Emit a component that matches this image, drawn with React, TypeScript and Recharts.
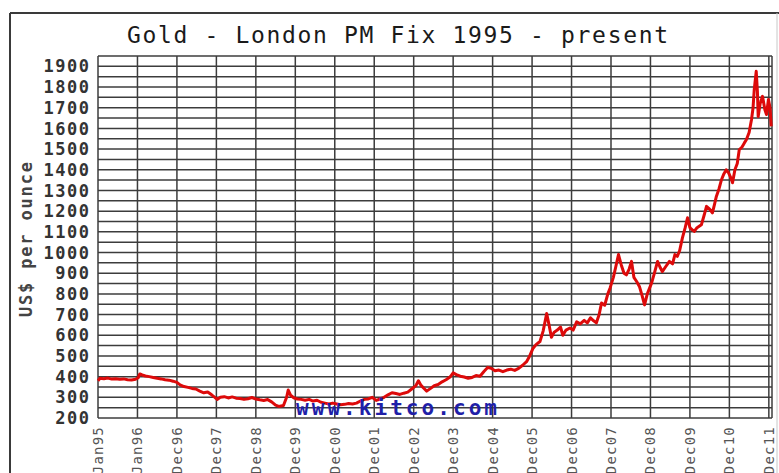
import { LineChart, Line, XAxis, YAxis, CartesianGrid } from "recharts";

const MONO = "'DejaVu Sans Mono', 'Liberation Mono', monospace";

// x positions: 0 = Jan95, 1 = Jan96, 2 = Dec96 ... 17 = Dec11
const X_LABELS = [
  "Jan95", "Jan96", "Dec96", "Dec97", "Dec98", "Dec99", "Dec00", "Dec01", "Dec02",
  "Dec03", "Dec04", "Dec05", "Dec06", "Dec07", "Dec08", "Dec09", "Dec10", "Dec11",
];
const X_END = 17.08;
const X_TICKS = [...X_LABELS.map((_, i) => i), X_END];

const Y_TICKS = [
  200, 250, 300, 350, 400, 450, 500, 550, 600, 650, 700, 750, 800, 850, 900, 950, 1000,
  1050, 1100, 1150, 1200, 1250, 1300, 1350, 1400, 1450, 1500, 1550, 1600, 1650, 1700,
  1750, 1800, 1850, 1900, 1950,
];

const T = [
  0.0, 0.05, 0.15, 0.25, 0.35, 0.45, 0.55, 0.65, 0.75, 0.85, 0.95, 1.02, 1.06, 1.12, 1.2,
  1.3, 1.4, 1.5, 1.6, 1.7, 1.8, 1.9, 2.0, 2.08, 2.18, 2.28, 2.38, 2.48, 2.58, 2.68, 2.78,
  2.88, 2.96, 3.02, 3.1, 3.2, 3.3, 3.4, 3.5, 3.6, 3.7, 3.8, 3.9, 4.0, 4.1, 4.2, 4.3, 4.4,
  4.5, 4.58, 4.7, 4.78, 4.82, 4.88, 4.96, 5.05, 5.15, 5.25, 5.35, 5.45, 5.55, 5.65, 5.75,
  5.85, 5.95, 6.05, 6.15, 6.25, 6.35, 6.45, 6.55, 6.65, 6.75, 6.85, 6.95, 7.05, 7.15, 7.25,
  7.35, 7.45, 7.55, 7.65, 7.75, 7.85, 7.95, 8.05, 8.12, 8.18, 8.25, 8.33, 8.42, 8.52, 8.62,
  8.72, 8.82, 8.92, 9.0, 9.08, 9.18, 9.28, 9.38, 9.48, 9.58, 9.68, 9.78, 9.88, 9.96, 10.06,
  10.16, 10.26, 10.36, 10.46, 10.56, 10.66, 10.76, 10.86, 10.94, 11.02, 11.1, 11.2, 11.28,
  11.37, 11.43, 11.49, 11.56, 11.64, 11.72, 11.78, 11.86, 11.96, 12.04, 12.13, 12.22,
  12.32, 12.4, 12.48, 12.56, 12.63, 12.7, 12.76, 12.84, 12.92, 12.98, 13.06, 13.12, 13.19,
  13.26, 13.33, 13.39, 13.46, 13.52, 13.58, 13.65, 13.72, 13.79, 13.85, 13.92, 14.03, 14.1,
  14.18, 14.24, 14.3, 14.38, 14.48, 14.56, 14.62, 14.68, 14.74, 14.81, 14.88, 14.94, 15.0,
  15.06, 15.11, 15.18, 15.29, 15.36, 15.42, 15.5, 15.57, 15.62, 15.67, 15.74, 15.8, 15.86,
  15.92, 15.98, 16.04, 16.08, 16.14, 16.2, 16.25, 16.32, 16.38, 16.43, 16.5, 16.56, 16.6,
  16.63, 16.68, 16.71, 16.73, 16.78, 16.84, 16.9, 16.94, 16.99, 17.03, 17.06,
];

const PRICE = [
  380, 392, 390, 393, 388, 390, 387, 389, 385, 384, 387, 395, 413, 408, 403, 400, 396,
  392, 389, 385, 383, 378, 372, 360, 352, 348, 343, 340, 330, 322, 326, 312, 300, 290,
  300, 303, 297, 302, 296, 294, 290, 293, 299, 292, 288, 285, 289, 278, 262, 256, 260,
  300, 335, 310, 298, 292, 290, 286, 290, 282, 286, 276, 272, 268, 272, 268, 264, 266,
  270, 268, 272, 282, 290, 292, 300, 285, 292, 300, 312, 322, 318, 314, 320, 325, 340,
  355, 380, 360, 345, 330, 342, 356, 362, 375, 385, 398, 418, 410, 402, 398, 392, 396,
  405, 402, 425, 445, 440, 428, 432, 424, 432, 436, 430, 440, 455, 472, 500, 535, 555,
  570, 620, 705, 650, 590, 615, 625, 640, 600, 625, 635, 625, 665, 655, 672, 660, 684,
  670, 660, 700, 756, 745, 800, 830, 880, 930, 990, 940, 900, 892, 920, 957, 880, 860,
  836, 790, 747, 800, 853, 900, 957, 930, 908, 930, 957, 945, 990, 981, 1010, 1071, 1120,
  1168, 1120, 1110, 1102, 1120, 1134, 1180, 1223, 1210, 1192, 1230, 1271, 1310, 1352,
  1380, 1400, 1385, 1360, 1337, 1400, 1430, 1497, 1510, 1530, 1545, 1580, 1642, 1700,
  1787, 1876, 1780, 1658, 1720, 1755, 1690, 1667, 1740, 1700, 1610,
];

const data = T.map((t, i) => ({ t, price: PRICE[i] }));

const XTick = ({ x, y, payload }: any) => {
  const label = X_LABELS[payload.value];
  if (!label) return <g />;
  return (
    <text
      x={x}
      y={y}
      dy="0.36em"
      transform={`rotate(-90 ${x} ${y})`}
      textAnchor="end"
      fontFamily={MONO}
      fontSize={14}
      letterSpacing={1.2}
      fill="#555"
    >
      {label}
    </text>
  );
};

const YTick = ({ x, y, payload }: any) => {
  const v = payload.value;
  if (v % 100 !== 0) return <g />;
  return (
    <text
      x={x}
      y={y}
      dy="0.36em"
      textAnchor="end"
      fontFamily={MONO}
      fontSize={17}
      fontWeight="bold"
      letterSpacing={1.5}
      fill="#333"
    >
      {v}
    </text>
  );
};

export default function App() {
  return (
    <div style={{ position: "absolute", top: 0, left: 0, width: 779, height: 473, background: "#fff" }}>
      <LineChart width={779} height={473} data={data} margin={{ top: 56, right: 7, bottom: 0, left: 0 }}>
        <CartesianGrid stroke="#3c3c3c" strokeWidth={1.5} fill="#fff" />
        <XAxis
          dataKey="t"
          type="number"
          domain={[0, X_END]}
          ticks={X_TICKS}
          interval={0}
          height={55}
          axisLine={false}
          tickLine={false}
          tickSize={0}
          tickMargin={8}
          tick={<XTick />}
        />
        <YAxis
          type="number"
          domain={[200, 1950]}
          ticks={Y_TICKS}
          interval={0}
          width={98}
          axisLine={false}
          tickLine={false}
          tickSize={0}
          tickMargin={7.5}
          tick={<YTick />}
        />
        <Line
          type="linear"
          dataKey="price"
          stroke="#dd0a0a"
          strokeWidth={3}
          strokeLinejoin="round"
          dot={false}
          isAnimationActive={false}
        />
      </LineChart>
      <svg
        width={779}
        height={473}
        style={{ position: "absolute", top: 0, left: 0, pointerEvents: "none" }}
      >
        <line x1={10} y1={13} x2={779} y2={13} stroke="#3a3a3a" strokeWidth={2} />
        <line x1={10} y1={13} x2={10} y2={473} stroke="#3a3a3a" strokeWidth={2} />
        <line x1={777} y1={13} x2={777} y2={473} stroke="#c8c8c8" strokeWidth={1} />
        <text
          x={127}
          y={43}
          textLength={541}
          lengthAdjust="spacing"
          fontFamily={MONO}
          fontSize={23}
          fill="#1a1a1a"
        >
          Gold - London PM Fix 1995 - present
        </text>
        <text
          x={32}
          y={317}
          transform="rotate(-90 32 317)"
          textLength={155}
          lengthAdjust="spacing"
          fontFamily={MONO}
          fontSize={17}
          fontWeight="bold"
          fill="#444"
        >
          US$ per ounce
        </text>
        <text
          x={296}
          y={414.5}
          textLength={201}
          lengthAdjust="spacing"
          fontFamily={MONO}
          fontSize={21}
          fontWeight="bold"
          fill="#1f1fa8"
        >
          www.kitco.com
        </text>
      </svg>
    </div>
  );
}
